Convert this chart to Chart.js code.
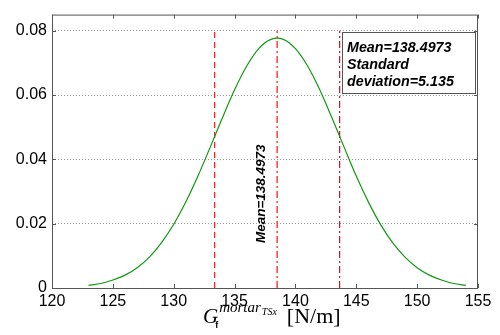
<!DOCTYPE html>
<html>
<head>
<meta charset="UTF-8">
<script src="https://cdn.jsdelivr.net/npm/chart.js"></script>
<style>
  html, body { margin: 0; padding: 0; background: #fff; }
  canvas { display: block; }
</style>
</head>
<body>
<canvas id="c" width="500" height="335"></canvas>
<script>
// values
const xs = [123, 124, 125, 126, 127, 128, 129, 130, 131, 132, 133, 134, 135, 136, 137, 138,
            139, 140, 141, 142, 143, 144, 145, 146, 147, 148, 149, 150, 151, 152, 153, 154];
const density = [0.0008, 0.0014, 0.0025, 0.0040, 0.0063, 0.0096, 0.0141, 0.0198, 0.0268, 0.0349,
                 0.0438, 0.0529, 0.0616, 0.0690, 0.0745, 0.0773, 0.0773, 0.0744, 0.0690, 0.0616,
                 0.0529, 0.0438, 0.0348, 0.0267, 0.0197, 0.0140, 0.0096, 0.0063, 0.0040, 0.0025,
                 0.0014, 0.0008];
const meanVal = 138.4973;
const sdVal = 5.135;
const markX = [meanVal - sdVal, meanVal, meanVal + sdVal];
const markTop = 0.08;
const xTicks = [120, 125, 130, 135, 140, 145, 150, 155];
const yTicks = [0, 0.02, 0.04, 0.06, 0.08];

const curve = xs.map((x, i) => ({ x: x, y: density[i] }));
const vline = x => [{ x: x, y: 0 }, { x: x, y: markTop }];

// frame, inward ticks, annotations and axis title
const extras = {
  id: 'extras',
  afterDraw(chart) {
    const ctx = chart.ctx;
    const a = chart.chartArea;
    const xs_ = chart.scales.x, ys_ = chart.scales.y;
    ctx.save();
    ctx.strokeStyle = '#555';
    ctx.lineWidth = 1;
    ctx.strokeRect(a.left + 0.5, a.top + 0.5, a.right - a.left - 1, a.bottom - a.top);
    ctx.beginPath();
    xTicks.forEach(v => {
      const px = Math.round(xs_.getPixelForValue(v)) + 0.5;
      ctx.moveTo(px, a.bottom); ctx.lineTo(px, a.bottom - 4);
      ctx.moveTo(px, a.top); ctx.lineTo(px, a.top + 4);
    });
    yTicks.forEach(v => {
      const py = Math.round(ys_.getPixelForValue(v)) + 0.5;
      ctx.moveTo(a.left, py); ctx.lineTo(a.left + 4, py);
      ctx.moveTo(a.right, py); ctx.lineTo(a.right - 4, py);
    });
    ctx.stroke();

    // rotated mean label
    ctx.fillStyle = '#000';
    ctx.font = 'italic bold 13.5px "Liberation Sans", Arial, sans-serif';
    ctx.textAlign = 'center';
    ctx.textBaseline = 'middle';
    ctx.translate(xs_.getPixelForValue(137.2), ys_.getPixelForValue(0.0293));
    ctx.rotate(-Math.PI / 2);
    ctx.fillText('Mean=' + meanVal, 0, 0);
    ctx.restore();

    // text box
    ctx.save();
    ctx.fillStyle = '#fff';
    ctx.fillRect(342, 32, 133, 61);
    ctx.strokeStyle = '#555';
    ctx.strokeRect(342.5, 32.5, 133, 61);
    ctx.fillStyle = '#000';
    ctx.font = 'italic bold 14.3px "Liberation Sans", Arial, sans-serif';
    ctx.textAlign = 'left';
    ctx.textBaseline = 'alphabetic';
    ctx.fillText('Mean=' + meanVal, 347, 52);
    ctx.fillText('Standard', 347, 69);
    ctx.fillText('deviation=' + sdVal, 347, 86);
    ctx.restore();

    // x axis title
    ctx.save();
    ctx.fillStyle = '#000';
    ctx.textBaseline = 'alphabetic';
    ctx.textAlign = 'left';
    let x = 203; const base = 323;
    ctx.font = 'italic 21px "Liberation Serif", serif';
    ctx.fillText('G', x, base);
    const gw = ctx.measureText('G').width;
    ctx.font = 'bold 9px "Liberation Sans", Arial, sans-serif';
    ctx.fillText('f', x + gw - 3, base + 5);
    x += gw + 1;
    ctx.font = 'italic 15px "Liberation Serif", serif';
    ctx.fillText('mortar', x, base - 11);
    x += ctx.measureText('mortar').width;
    ctx.font = 'italic 10px "Liberation Serif", serif';
    ctx.fillText('TSx', x + 1, base - 8);
    x += ctx.measureText('TSx').width + 11;
    ctx.font = '22px "Liberation Serif", serif';
    ctx.fillText('[N/m]', x, base);
    ctx.restore();
  }
};

new Chart(document.getElementById('c'), {
  type: 'scatter',
  data: {
    datasets: [
      { data: curve, showLine: true, borderColor: '#119911', borderWidth: 1.2, pointRadius: 0, tension: 0.3 },
      { data: vline(markX[0]), showLine: true, borderColor: '#ff2020', borderWidth: 1.3, borderDash: [6, 4], pointRadius: 0 },
      { data: vline(markX[1]), showLine: true, borderColor: '#ff2020', borderWidth: 1.3, borderDash: [7, 3, 2, 3], pointRadius: 0 },
      { data: vline(markX[2]), showLine: true, borderColor: '#d0102a', borderWidth: 1.2, borderDash: [7, 3, 2, 3], pointRadius: 0 }
    ]
  },
  options: {
    responsive: false,
    animation: false,
    layout: { padding: { top: 13, right: 22, left: 0, bottom: 0 } },
    plugins: { legend: { display: false }, tooltip: { enabled: false } },
    scales: {
      x: {
        type: 'linear', min: 120, max: 155,
        afterBuildTicks: s => { s.ticks = xTicks.map(v => ({ value: v })); },
        afterFit: s => { s.height = 47; },
        grid: { display: false, drawTicks: false },
        border: { display: false },
        ticks: { color: '#000', padding: 4, font: { size: 16, family: '"Liberation Sans", Arial, sans-serif' } }
      },
      y: {
        type: 'linear', min: 0, max: 0.085,
        afterBuildTicks: s => { s.ticks = yTicks.map(v => ({ value: v })); },
        afterFit: s => { s.width = 52; },
        grid: { color: '#999', drawTicks: false },
        border: { display: false, dash: [1, 2] },
        ticks: {
          color: '#000', padding: 5,
          font: { size: 16, family: '"Liberation Sans", Arial, sans-serif' },
          callback: v => v === 0 ? '0' : v.toFixed(2)
        }
      }
    }
  },
  plugins: [extras]
});
</script>
</body>
</html>
